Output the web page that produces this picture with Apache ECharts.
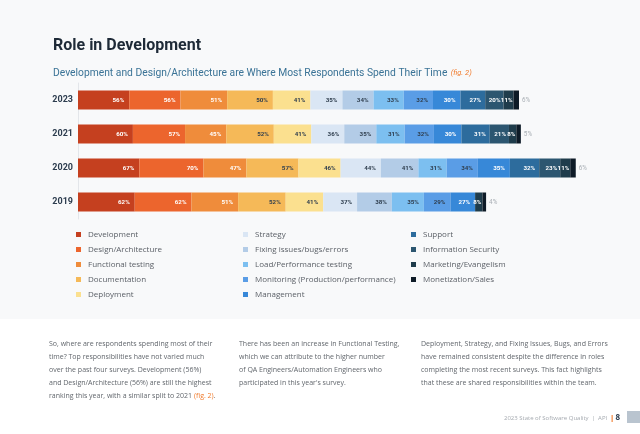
<!DOCTYPE html>
<html><head><meta charset="utf-8">
<script src="https://cdn.jsdelivr.net/npm/echarts@6/dist/echarts.min.js"></script>
<style>html,body{margin:0;padding:0;background:#fff}#c{width:640px;height:434px}</style>
</head><body><div id="c"></div>
<script>
const years = ['2023', '2021', '2020', '2019'];
const roles = ['Development', 'Design/Architecture', 'Functional testing', 'Documentation', 'Deployment',
  'Strategy', 'Fixing issues/bugs/errors', 'Load/Performance testing', 'Monitoring (Production/performance)', 'Management',
  'Support', 'Information Security', 'Marketing/Evangelism', 'Monetization/Sales'];
const colors = ['#c5401f', '#ec652d', '#ef8c3b', '#f5b958', '#fbe08f', '#dae6f4', '#b3cce7', '#7cbff0',
  '#5a9de6', '#3788d8', '#2d6c9d', '#2c5670', '#1f3c4b', '#0e1b27'];
// values per role, in order of years: 2023, 2021, 2020, 2019
const development = [56, 60, 67, 62];
const designArchitecture = [56, 57, 70, 62];
const functionalTesting = [51, 45, 47, 51];
const documentation = [50, 52, 57, 52];
const deployment = [41, 41, 46, 41];
const strategy = [35, 36, 44, 37];
const fixingIssues = [34, 35, 41, 38];
const loadPerformance = [33, 31, 31, 35];
const monitoring = [32, 32, 34, 29];
const management = [30, 30, 35, 27];
const support = [27, 31, 32, '-'];
const informationSecurity = [20, 21, 23, '-'];
const marketing = [11, 8, 11, 8];
const monetization = [6, 5, 6, 4];
const values = [development, designArchitecture, functionalTesting, documentation, deployment, strategy,
  fixingIssues, loadPerformance, monitoring, management, support, informationSecurity, marketing, monetization];
const darkText = [false, false, false, true, true, true, true, true, true, false, false, false, false, false];
const labelGap = [5, 5, 5, 5, 5, 5, 5, 5, 5, 5, 4, 3, 1, 3];

const series = roles.map((r, i) => {
  const last = i === roles.length - 1;
  return {
    name: r, type: 'bar', stack: 'all', barWidth: 19, data: values[i],
    itemStyle: { color: colors[i] },
    label: last ? {
      show: true, position: 'right', distance: labelGap[i], formatter: '{c}%', fontSize: 6.3,
      color: '#a9afb5', fontFamily: 'Roboto'
    } : {
      show: true, position: 'insideRight', distance: labelGap[i], formatter: '{c}%', fontSize: 6.2, fontWeight: 'bold',
      color: darkText[i] ? '#2f3e4e' : '#ffffff', fontFamily: 'Roboto'
    }
  };
});

function legendFor(items, left) {
  return {
    orient: 'vertical', left: left, top: 229.5, padding: 0, data: items, icon: 'rect', itemWidth: 5, itemHeight: 5,
    itemGap: 5, selectedMode: false,
    textStyle: { fontSize: 8, color: '#5a5f66', fontFamily: 'Open Sans', lineHeight: 10, padding: [0, 0, 0, 2] }
  };
}

const para = { fontSize: 7, fill: '#62676d', fontFamily: 'Open Sans', lineHeight: 13 };
const chart = echarts.init(document.getElementById('c'));
chart.setOption({
  animation: false,
  backgroundColor: '#ffffff',
  color: colors,
  grid: { left: 78, top: 83, width: 549, height: 136 },
  xAxis: { type: 'value', min: 0, max: 600, show: false },
  yAxis: {
    type: 'category', inverse: true, data: years,
    axisLine: { lineStyle: { color: '#e3e6ea' } }, axisTick: { show: false },
    axisLabel: { fontSize: 9, fontWeight: 'bold', color: '#2d3d4f', margin: 5, fontFamily: 'Roboto' }
  },
  legend: [legendFor(roles.slice(0, 5), 76), legendFor(roles.slice(5, 10), 243), legendFor(roles.slice(10), 411)],
  graphic: [
    { type: 'rect', z: -10, shape: { x: 0, y: 0, width: 640, height: 319 }, style: { fill: '#f8f9fa' } },
    { type: 'text', left: 53, top: 38, style: { text: 'Role in Development', fontSize: 16, fontWeight: 'bold', fill: '#1e2a37', fontFamily: 'Roboto' } },
    { type: 'text', left: 53, top: 67, style: {
        text: '{a|Development and Design/Architecture are Where Most Respondents Spend Their Time} {b|(fig. 2)}',
        rich: { a: { fontSize: 10.3, fill: '#3a7396', fontFamily: 'Roboto' }, b: { fontSize: 7.5, fill: '#f07b2c', fontStyle: 'italic', fontFamily: 'Roboto' } } } },
    { type: 'text', left: 49, top: 337, style: Object.assign({
        text: 'So, where are respondents spending most of their\ntime? Top responsibilities have not varied much\nover the past four surveys. Development (56%)\nand Design/Architecture (56%) are still the highest\nranking this year, with a similar split to 2021 {o|(fig. 2)}.',
        rich: { o: { fill: '#f07b2c', fontSize: 7, fontFamily: 'Open Sans', lineHeight: 13 } } }, para) },
    { type: 'text', left: 239, top: 337, style: Object.assign({
        text: 'There has been an increase in Functional Testing,\nwhich we can attribute to the higher number\nof QA Engineers/Automation Engineers who\nparticipated in this year\'s survey.' }, para) },
    { type: 'text', left: 421, top: 337, style: Object.assign({
        text: 'Deployment, Strategy, and Fixing Issues, Bugs, and Errors\nhave remained consistent despite the difference in roles\ncompleting the most recent surveys. This fact highlights\nthat these are shared responsibilities within the team.' }, para) },
    { type: 'text', right: 20, top: 414, style: {
        text: '{g|2023 State of Software Quality  |  API }{o| | }{b|8}',
        rich: { g: { fontSize: 6, fill: '#a5aab0', fontFamily: 'Open Sans' }, o: { fontSize: 8, fill: '#f07b2c', fontWeight: 'bold' }, b: { fontSize: 8, fill: '#2d3d4f', fontWeight: 'bold', fontFamily: 'Open Sans' } } } },
    { type: 'rect', shape: { x: 627, y: 411, width: 14, height: 12 }, style: { fill: '#b9c4cf' } }
  ],
  series: series
});
</script></body></html>
